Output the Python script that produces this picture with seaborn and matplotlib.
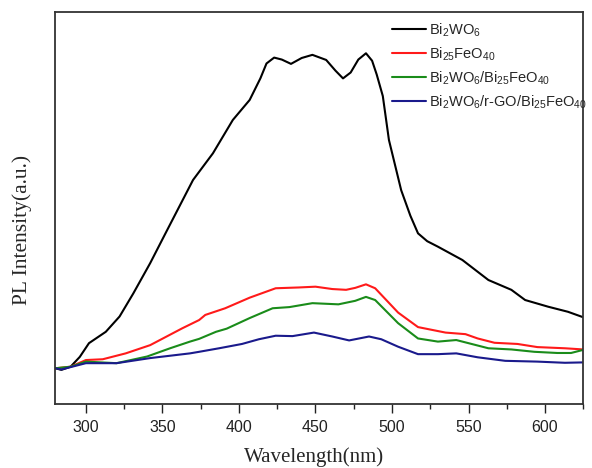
import numpy as np
import pandas as pd
import matplotlib
matplotlib.use("Agg")
import matplotlib.pyplot as plt
import seaborn as sns
from matplotlib.ticker import MultipleLocator

sns.set_theme(style="white")
plt.rcParams['font.family'] = ['Liberation Sans', 'DejaVu Sans']
plt.rcParams['mathtext.default'] = 'regular'

labels = [r'Bi$_2$WO$_6$', r'Bi$_{25}$FeO$_{40}$',
          r'Bi$_2$WO$_6$/Bi$_{25}$FeO$_{40}$', r'Bi$_2$WO$_6$/r-GO/Bi$_{25}$FeO$_{40}$']
colors = ['#000000', '#ff1a1a', '#1a8c1a', '#1a1a8c']

bwo_x = [280, 284, 290, 296, 302, 313, 322, 331, 342, 352, 361, 370, 383, 396, 407, 414, 418,
         423, 428, 434, 441, 448, 457, 463, 468, 473, 478, 483, 487, 490, 494, 498, 506, 512,
         517, 523, 530, 546, 563, 578, 587, 602, 615, 625]
bwo_y = [9.1, 8.7, 9.5, 12.0, 15.5, 18.4, 22.3, 28.2, 35.9, 43.5, 50.3, 57.1, 63.9, 72.4, 77.5,
         83.0, 86.8, 88.3, 87.8, 86.7, 88.2, 89.0, 87.7, 85.0, 83.0, 84.5, 87.8, 89.4, 87.5, 84.0,
         78.5, 67.3, 54.5, 48.0, 43.5, 41.5, 40.1, 36.7, 31.6, 29.1, 26.5, 24.8, 23.5, 22.1]

bfo_x = [280, 290, 300, 311, 326, 342, 363, 374, 378, 391, 407, 424, 439, 450, 461, 470, 476,
         483, 489, 504, 517, 535, 548, 556, 567, 582, 595, 613, 625]
bfo_y = [9.1, 9.5, 11.2, 11.4, 12.9, 15.0, 19.3, 21.4, 22.7, 24.4, 27.1, 29.5, 29.7, 29.9, 29.3,
         29.1, 29.6, 30.5, 29.5, 23.3, 19.6, 18.2, 17.8, 16.7, 15.6, 15.3, 14.5, 14.2, 13.9]

comp_x = [280, 290, 300, 320, 340, 355, 368, 374, 385, 392, 407, 422, 433, 448, 465, 476, 483,
          489, 504, 517, 530, 542, 552, 563, 578, 593, 608, 617, 625]
comp_y = [9.1, 9.5, 10.8, 10.4, 12.1, 14.2, 15.9, 16.6, 18.4, 19.2, 21.9, 24.4, 24.7, 25.7, 25.4,
          26.3, 27.3, 26.5, 20.6, 16.7, 15.9, 16.3, 15.3, 14.2, 13.9, 13.3, 13.0, 13.0, 13.8]

rgo_x = [280, 284, 300, 320, 342, 368, 374, 387, 402, 413, 424, 435, 449, 461, 472, 485, 493,
         504, 517, 530, 542, 556, 574, 595, 613, 625]
rgo_y = [9.1, 8.8, 10.4, 10.4, 11.7, 12.9, 13.3, 14.2, 15.3, 16.5, 17.4, 17.3, 18.2, 17.2, 16.2,
         17.2, 16.5, 14.6, 12.7, 12.7, 12.9, 11.9, 11.0, 10.8, 10.5, 10.6]

series = [(bwo_x, bwo_y), (bfo_x, bfo_y), (comp_x, comp_y), (rgo_x, rgo_y)]
frames = []
for lab, (xs, ys) in zip(labels, series):
    frames.append(pd.DataFrame({'Wavelength': xs, 'Intensity': ys, 'Sample': lab}))
df = pd.concat(frames, ignore_index=True)

fig = plt.figure(figsize=(5.92, 4.68), dpi=100)
ax = fig.add_axes([0.0934, 0.1368, 0.8919, 0.8382])
sns.lineplot(data=df, x='Wavelength', y='Intensity', hue='Sample', hue_order=labels,
             palette=colors, sort=False, estimator=None, linewidth=1.5, ax=ax)

ax.set_xlim(280, 625)
ax.set_ylim(0, 100)
ax.set_yticks([])
ax.xaxis.set_major_locator(MultipleLocator(50))
ax.xaxis.set_minor_locator(MultipleLocator(25))
ax.tick_params(axis='x', which='major', direction='out', length=6.5, width=1.0,
               bottom=True, labelsize=11.5, colors='#222222', pad=5)
ax.tick_params(axis='x', which='minor', direction='out', length=3.5, width=1.0, bottom=True,
               colors='#222222')
for s in ax.spines.values():
    s.set_color('#333333')
    s.set_linewidth(1.3)

ax.set_xlabel('Wavelength(nm)', family=['Liberation Serif'], fontsize=15)
ax.xaxis.set_label_coords(0.49, -0.11)
ax.set_ylabel('PL Intensity(a.u.)', family=['Liberation Serif'], fontsize=15.5)
ax.yaxis.set_label_coords(-0.045, 0.444)

leg = ax.legend(loc='upper left', frameon=False, fontsize=10.5, handlelength=2.3,
                handletextpad=0.25, labelspacing=0.45, borderpad=0.0, borderaxespad=0.0,
                bbox_to_anchor=(0.638, 0.975))
for line in leg.get_lines():
    line.set_linewidth(1.5)

fig.savefig('out.png', dpi=100)
